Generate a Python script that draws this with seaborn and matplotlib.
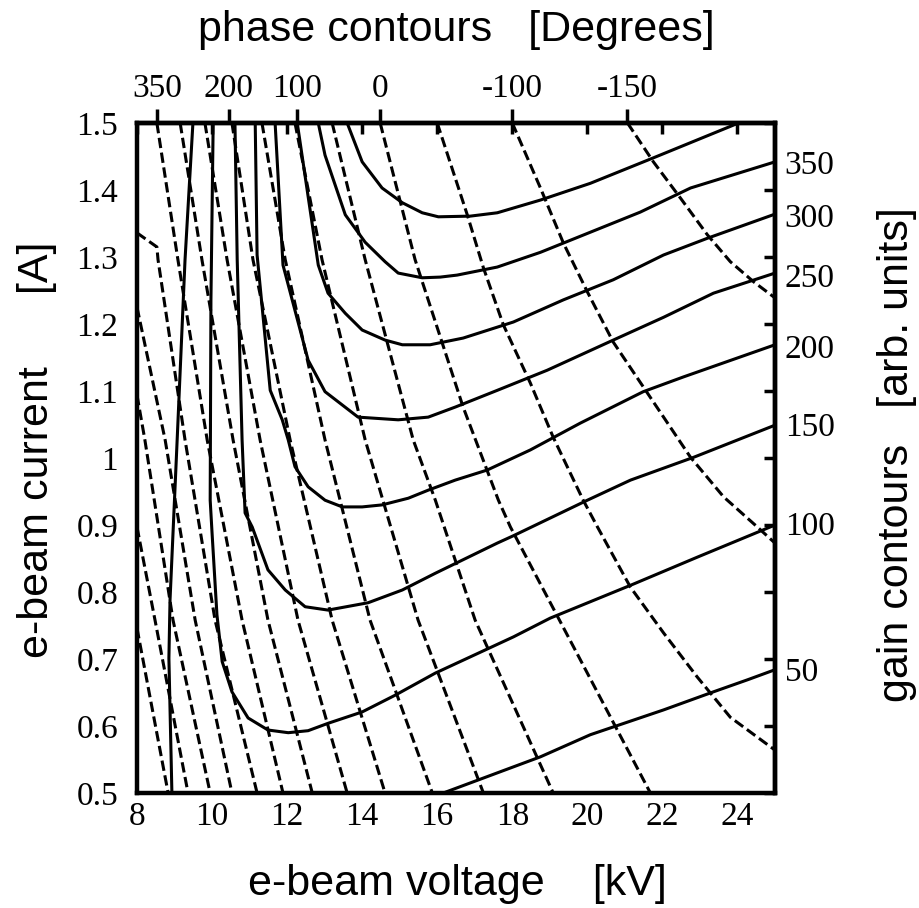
import numpy as np
import pandas as pd
import matplotlib
matplotlib.use("Agg")
import matplotlib.pyplot as plt
import seaborn as sns

# ---------------- data ----------------
# gain contours (solid)  -- voltage [kV], current [A]
g50a_v = [9.49, 9.28, 9.07, 8.88, 8.85, 8.93]
g50a_i = [1.50, 1.296, 1.027, 0.788, 0.701, 0.50]
g50b_v = [16.16, 18.03, 18.75, 20.08, 22.03, 23.36, 24.27, 25.0]
g50b_i = [0.50, 0.539, 0.554, 0.587, 0.624, 0.651, 0.669, 0.684]
g100_v = [10.03, 9.97, 9.95, 10.00, 10.13, 10.27, 10.53, 10.96, 11.49, 12.03, 12.56,
          13.09, 14.00, 14.88, 15.95, 18.03, 19.01, 21.15, 22.93, 25.0]
g100_i = [1.50, 1.236, 0.937, 0.888, 0.766, 0.696, 0.651, 0.612, 0.594, 0.590, 0.593,
          0.604, 0.621, 0.646, 0.679, 0.733, 0.761, 0.810, 0.852, 0.900]
g150_v = [10.61, 10.67, 10.80, 10.88, 11.07, 11.49, 11.95, 12.48, 13.09, 14.16, 15.07,
          15.95, 17.60, 18.03, 20.00, 21.15, 22.83, 25.0]
g150_i = [1.50, 1.296, 1.027, 0.918, 0.897, 0.833, 0.803, 0.778, 0.773, 0.784, 0.803,
          0.828, 0.873, 0.884, 0.937, 0.967, 1.001, 1.049]
g200_v = [11.15, 11.20, 11.55, 11.87, 12.03, 12.21, 12.56, 13.01, 13.47, 14.00, 14.53,
          15.23, 15.76, 16.48, 17.33, 18.48, 19.81, 21.49, 22.56, 25.0]
g200_i = [1.50, 1.303, 1.101, 1.057, 1.027, 0.987, 0.957, 0.937, 0.927, 0.927, 0.930,
          0.940, 0.952, 0.967, 0.982, 1.012, 1.052, 1.099, 1.121, 1.169]
g250_v = [11.68, 11.89, 12.56, 13.01, 13.89, 14.96, 15.76, 16.48, 17.60, 18.93, 20.69,
          22.03, 23.36, 25.0]
g250_i = [1.50, 1.288, 1.146, 1.099, 1.061, 1.057, 1.061, 1.076, 1.101, 1.131, 1.176,
          1.210, 1.246, 1.276]
g300_v = [12.27, 12.83, 13.09, 13.55, 14.00, 14.61, 15.07, 15.81, 16.69, 18.03, 19.36,
          20.69, 22.03, 23.20, 25.0]
g300_i = [1.50, 1.288, 1.246, 1.216, 1.191, 1.176, 1.169, 1.169, 1.179, 1.203, 1.236,
          1.266, 1.303, 1.328, 1.364]
g350_v = [12.83, 13.01, 13.55, 14.08, 14.61, 14.96, 15.60, 16.08, 16.53, 17.60, 18.75,
          20.08, 21.41, 22.75, 25.0]
g350_i = [1.50, 1.452, 1.363, 1.322, 1.293, 1.276, 1.269, 1.270, 1.273, 1.285, 1.307,
          1.337, 1.367, 1.403, 1.442]
g400_v = [13.60, 14.00, 14.53, 15.07, 15.60, 16.03, 16.88, 17.60, 18.75, 20.08, 21.76, 24.03]
g400_i = [1.50, 1.442, 1.403, 1.381, 1.366, 1.360, 1.361, 1.366, 1.385, 1.410, 1.448, 1.50]

# phase contours (dashed)
pm150_v = [21.07, 21.76, 22.48, 23.20, 23.81, 24.43, 25.0]
pm150_i = [1.50, 1.442, 1.388, 1.333, 1.293, 1.263, 1.239]
pm100_v = [18.00, 18.75, 19.36, 20.00, 20.69, 21.60, 22.75, 23.63, 24.53, 25.0]
pm100_i = [1.50, 1.403, 1.321, 1.248, 1.173, 1.097, 1.001, 0.942, 0.897, 0.873]
pm50_v = [16.00, 16.80, 17.23, 17.76, 18.48, 19.09, 19.89, 20.27, 21.15, 22.03, 22.93, 23.81, 25.0]
pm50_i = [1.50, 1.363, 1.284, 1.199, 1.112, 1.031, 0.937, 0.897, 0.807, 0.739, 0.673, 0.613, 0.564]
p0_v = [14.48, 15.41, 16.69, 17.63, 17.95, 19.68, 21.68]
p0_i = [1.50, 1.296, 1.076, 0.937, 0.897, 0.713, 0.50]
p50_v = [13.20, 14.08, 15.36, 15.95, 17.01, 19.09]
p50_i = [1.50, 1.296, 1.027, 0.937, 0.758, 0.50]
phase_i = [1.50, 1.296, 1.027, 0.758, 0.50]
p100_v = [12.21, 12.93, 14.08, 15.49, 17.23]
p150_v = [11.33, 11.95, 13.01, 14.21, 15.87]
p200_v = [10.53, 11.09, 12.08, 13.20, 14.61]
p250_v = [9.81, 10.40, 11.28, 12.29, 13.60]
p300_v = [9.15, 9.73, 10.56, 11.49, 12.67]
p350_v = [8.53, 9.09, 9.87, 10.80, 11.89]
p400_v = [8.00, 8.53, 8.56, 9.28, 10.08, 11.20]
p400_i = [1.336, 1.315, 1.296, 1.027, 0.758, 0.50]
p450_v = [8.00, 8.75, 9.55, 10.53]
p450_i = [1.225, 1.027, 0.758, 0.50]
p500_v = [8.00, 8.21, 8.96, 9.95]
p500_i = [1.094, 1.027, 0.758, 0.50]
p550_v = [8.00, 8.48, 9.36]
p550_i = [0.897, 0.758, 0.50]
p600_v = [8.00, 8.83]
p600_i = [0.746, 0.50]

# tick labels
x_ticks = [8, 10, 12, 14, 16, 18, 20, 22, 24]
y_ticks = [0.5, 0.6, 0.7, 0.8, 0.9, 1.0, 1.1, 1.2, 1.3, 1.4, 1.5]
y_ticklabels = ["0.5", "0.6", "0.7", "0.8", "0.9", "1", "1.1", "1.2", "1.3", "1.4", "1.5"]
phase_tick_kv = [8.53, 10.45, 12.26, 14.48, 17.99, 21.06]
phase_tick_labels = ["350", "200", "100", "0", "-100", "-150"]
gain_tick_current = [1.442, 1.362, 1.273, 1.167, 1.051, 0.903, 0.684]
gain_tick_labels = ["350", "300", "250", "200", "150", "100", "50"]

# ---------------- build long table ----------------
gain_sets = {
    "g50a": (g50a_v, g50a_i), "g50b": (g50b_v, g50b_i), "g100": (g100_v, g100_i),
    "g150": (g150_v, g150_i), "g200": (g200_v, g200_i), "g250": (g250_v, g250_i),
    "g300": (g300_v, g300_i), "g350": (g350_v, g350_i), "g400": (g400_v, g400_i),
}
phase_sets = {
    "pm150": (pm150_v, pm150_i), "pm100": (pm100_v, pm100_i), "pm50": (pm50_v, pm50_i),
    "p0": (p0_v, p0_i), "p50": (p50_v, p50_i), "p100": (p100_v, phase_i),
    "p150": (p150_v, phase_i), "p200": (p200_v, phase_i), "p250": (p250_v, phase_i),
    "p300": (p300_v, phase_i), "p350": (p350_v, phase_i), "p400": (p400_v, p400_i),
    "p450": (p450_v, p450_i), "p500": (p500_v, p500_i), "p550": (p550_v, p550_i),
    "p600": (p600_v, p600_i),
}
rows = []
for kind, sets in (("gain", gain_sets), ("phase", phase_sets)):
    for name, (vv, ii) in sets.items():
        for k, (v, i) in enumerate(zip(vv, ii)):
            rows.append({"voltage": v, "current": i, "contour": name, "kind": kind, "order": k})
df = pd.DataFrame(rows)

# ---------------- plot ----------------
sns.set_style("white")
plt.rcParams["font.family"] = ["Liberation Serif", "DejaVu Serif"]
plt.rcParams["text.color"] = "black"
plt.rcParams["axes.labelcolor"] = "black"
plt.rcParams["xtick.color"] = "black"
plt.rcParams["ytick.color"] = "black"

fig = plt.figure(figsize=(9.2, 9.08), dpi=100)
ax = fig.add_axes([137 / 920, 1 - 793 / 908, 638 / 920, 670 / 908])

sns.lineplot(data=df, x="voltage", y="current", units="contour", estimator=None,
             sort=False, style="kind", dashes={"gain": "", "phase": (3.4, 1.5)},
             color="black", linewidth=2.2, legend=False, ax=ax)

ax.set_xlim(8, 25)
ax.set_ylim(0.5, 1.5)
ax.set_xticks(x_ticks)
ax.set_xticklabels([str(t) for t in x_ticks])
ax.set_yticks(y_ticks)
ax.set_yticklabels(y_ticklabels)
ax.tick_params(direction="in", length=8, width=2.5, top=True, right=True,
               labelsize=24, colors="black")
ax.tick_params(axis="x", pad=6)
ax.tick_params(axis="y", pad=13.5)
for s in ax.spines.values():
    s.set_linewidth(3.2)
    s.set_color("black")

# top: phase axis
top = ax.secondary_xaxis("top")
top.set_xticks(phase_tick_kv)
top.set_xticklabels(phase_tick_labels)
top.tick_params(direction="out", length=10, width=2.5, labelsize=24, pad=4, colors="black")
top.spines["top"].set_linewidth(3.2)

# right: gain axis
right = ax.secondary_yaxis("right")
right.set_yticks(gain_tick_current)
right.set_yticklabels(gain_tick_labels)
right.tick_params(direction="out", length=0, width=0, labelsize=24, pad=7, colors="black")
right.spines["right"].set_linewidth(3.2)

sans = ["Liberation Sans", "DejaVu Sans"]
ax.set_xlabel("e-beam voltage    [kV]", fontsize=31, family=sans, color="black")
ax.set_ylabel("e-beam current      [A]", fontsize=31, family=sans, color="black")
ax.xaxis.set_label_coords(0.502, -0.106)
ax.yaxis.set_label_coords(-0.126, 0.512)
fig.text(456 / 920, 1 - 30 / 908, "phase contours   [Degrees]", fontsize=31,
         family=sans, ha="center", va="center", color="black")
fig.text(897 / 920, 1 - 455 / 908, "gain contours   [arb. units]", fontsize=31,
         family=sans, ha="center", va="center", rotation=90, color="black")

fig.savefig("out.png", dpi=100)
